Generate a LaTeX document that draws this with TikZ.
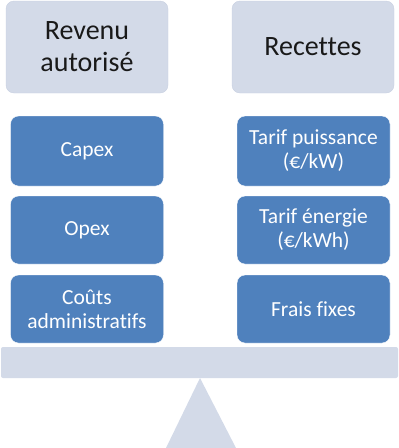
\documentclass[tikz,border=0pt]{standalone}
\usepackage{fontspec}
\setmainfont{Carlito}[Ligatures=NoCommon]
\definecolor{paleblue}{RGB}{211,218,232}
\definecolor{paleedge}{RGB}{200,208,225}
\definecolor{boxblue}{RGB}{79,129,189}
\tikzset{
  header/.style={fill=paleblue, draw=paleedge, rounded corners=8pt, minimum width=162pt,
    minimum height=92pt, align=center, text=black!90, font=\fontsize{28}{32}\selectfont},
  item/.style={fill=boxblue, draw=white, rounded corners=8pt, minimum width=153pt,
    align=center, text=white, font=\fontsize{21.5}{24}\selectfont},
}
\begin{document}
\begin{tikzpicture}[x=1pt, y=-1pt]
\useasboundingbox (0, 0) rectangle (399, 448);
% the two headers
\node[header] (revenu) at (87, 47) {Revenu\\autorisé};
\node[header] (recettes) at (313, 47) {Recettes};
% left column
\node[item, minimum height=70pt] (capex) at (87, 151) {Capex};
\node[item, minimum height=68pt] (opex) at (87, 230) {Opex};
\node[item, minimum height=68pt] (couts) at (87, 309) {Coûts\\administratifs};
% right column
\node[item, minimum height=70pt] (puissance) at (313.5, 151) {Tarif puissance\\(€/kW)};
\node[item, minimum height=68pt] (energie) at (313.5, 230) {Tarif énergie\\(€/kWh)};
\node[item, minimum height=68pt] (fixes) at (313.5, 309) {Frais fixes};
% the scale
\fill[paleblue, rounded corners=2pt] (1, 347) rectangle (398, 378);
\fill[paleblue] (200, 378) -- (236, 448) -- (166, 448) -- cycle;
\end{tikzpicture}
\end{document}
